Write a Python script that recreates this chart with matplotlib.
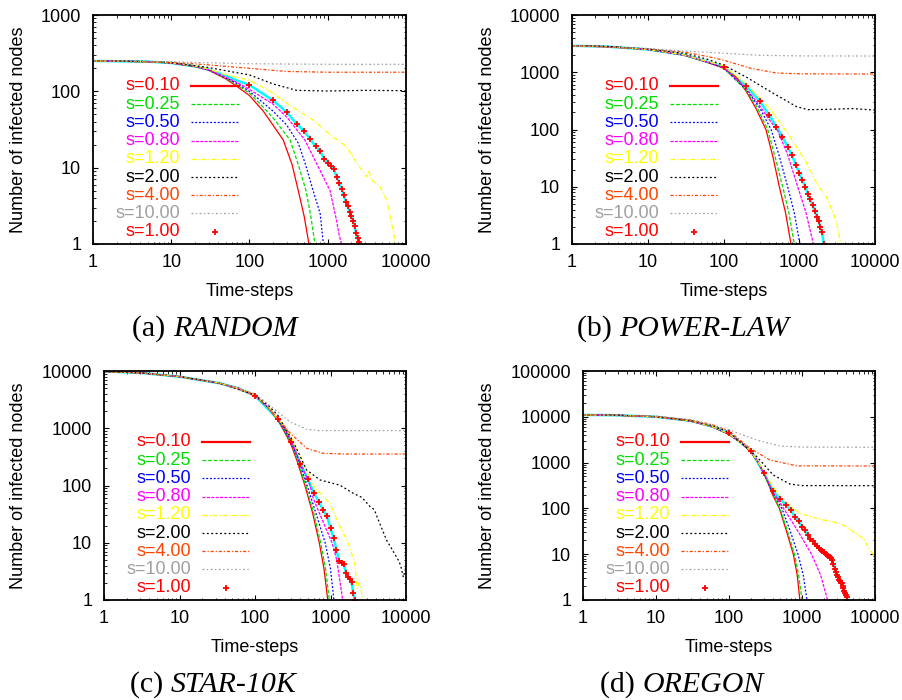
import numpy as np
import matplotlib
matplotlib.use("Agg")
import matplotlib.pyplot as plt
from matplotlib.ticker import LogLocator, FuncFormatter, NullFormatter

plt.rcParams['font.family'] = ['Liberation Sans', 'DejaVu Sans']

FIG_W, FIG_H = 902, 700

LABELS = ["s=0.10", "s=0.25", "s=0.50", "s=0.80", "s=1.20", "s=2.00", "s=4.00", "s=10.00"]
COLORS = ["#ff0000", "#00dd00", "#0000ff", "#ff00ff", "#ffff00", "#000000", "#ff4500", "#a0a0a0"]
STYLES = ["-", (0, (3, 1.5)), (0, (1.5, 1.5)), (0, (2.5, 1)), (0, (4, 1.5, 1, 1.5)),
          (0, (1.5, 2)), (0, (2.5, 1.5, 1, 1.5)), (0, (1.5, 2, 1, 2))]

# ---- (a) RANDOM ----
A_010 = [(1, 250), (5, 245), (10, 235), (20, 212), (30, 190), (50, 145), (70, 115), (100, 88), (150, 55), (200, 36), (270, 23), (350, 11), (420, 5), (500, 2.3), (575, 1)]
A_025 = [(1, 250), (5, 245), (10, 235), (20, 212), (30, 190), (50, 148), (70, 120), (100, 95), (150, 62), (200, 45), (330, 23), (420, 11), (527, 5), (600, 2.5), (687, 1)]
A_050 = [(1, 250), (5, 245), (10, 235), (20, 212), (30, 190), (50, 150), (70, 126), (100, 100), (200, 55), (300, 36), (420, 21), (520, 11), (650, 5), (800, 2.5), (880, 1)]
A_080 = [(1, 250), (5, 245), (10, 235), (20, 213), (30, 192), (50, 153), (70, 130), (100, 106), (200, 68), (300, 46), (510, 23), (700, 12), (1070, 5), (1300, 2), (1400, 1.3), (1500, 1)]
A_120 = [(1, 250), (5, 245), (10, 236), (20, 215), (30, 196), (50, 165), (100, 140), (200, 95), (300, 70), (440, 54), (655, 42), (1070, 27), (1750, 18.8), (2340, 11.4), (2800, 9), (3150, 7.6), (3350, 9.2), (3600, 7), (4670, 5.6), (5650, 3.8), (6840, 1.5), (7300, 1)]
A_200 = [(1, 250), (5, 246), (10, 238), (30, 205), (60, 180), (100, 164), (200, 125), (400, 103), (1000, 101), (3000, 103), (10000, 102)]
A_400 = [(1, 250), (10, 240), (30, 222), (100, 200), (300, 182), (1000, 178), (10000, 178)]
A_1000 = [(1, 250), (10, 243), (100, 230), (1000, 226), (10000, 226)]
A_100 = [(1, 250), (5, 245), (10, 235), (20, 213), (30, 193), (50, 160), (70, 138), (100, 121), (200, 76), (300, 53), (400, 37.5), (500, 30), (600, 23.5), (700, 19), (800, 16.5), (900, 13), (1000, 11.5), (1100, 10.5), (1200, 9.5), (1300, 7.5), (1400, 6.3), (1500, 5.3), (1600, 4.4), (1700, 3.6), (1800, 3.1), (1900, 2.6), (2000, 2.3), (2100, 2.0), (2200, 1.7), (2300, 1.4), (2400, 1.2), (2500, 1.05)]

# ---- (b) POWER-LAW ----
B_010 = [(1, 2900), (3, 2800), (10, 2500), (30, 2000), (60, 1500), (100, 1180), (150, 800), (200, 460), (270, 230), (363, 100), (450, 33), (546, 10), (660, 3.5), (778, 1)]
B_025 = [(1, 2900), (3, 2800), (10, 2500), (30, 2000), (60, 1510), (100, 1190), (200, 480), (280, 240), (383, 100), (480, 33), (605, 10), (730, 3.5), (860, 1)]
B_050 = [(1, 2900), (3, 2800), (10, 2500), (30, 2000), (60, 1520), (100, 1200), (200, 500), (300, 240), (425, 100), (550, 33), (703, 10), (860, 3.5), (1020, 1)]
B_080 = [(1, 2900), (3, 2800), (10, 2500), (30, 2000), (60, 1530), (100, 1220), (200, 520), (300, 260), (400, 150), (519, 95), (700, 37), (955, 10), (1230, 3.5), (1535, 1)]
B_120 = [(1, 2900), (3, 2800), (10, 2500), (30, 2020), (60, 1550), (100, 1300), (200, 620), (411, 230), (755, 75), (1260, 25.7), (1700, 11.5), (2300, 6.5), (2800, 3.5), (3120, 2.3), (3450, 1.2), (3600, 1)]
B_200 = [(1, 2900), (3, 2820), (10, 2550), (30, 2150), (60, 1700), (100, 1340), (202, 815), (455, 428), (925, 250), (1300, 222), (2500, 225), (5000, 232), (10000, 218)]
B_400 = [(1, 2900), (10, 2570), (30, 2250), (60, 1900), (100, 1630), (230, 1170), (500, 970), (1000, 940), (10000, 930)]
B_1000 = [(1, 2900), (10, 2600), (30, 2350), (100, 2150), (300, 1980), (1000, 1930), (10000, 1920)]
B_100 = [(1, 2900), (3, 2800), (10, 2500), (30, 2010), (60, 1540), (100, 1250), (200, 575), (300, 315), (400, 179), (500, 112), (600, 75), (700, 50), (800, 36), (900, 24), (1000, 17.6), (1100, 13), (1200, 10), (1300, 7.5), (1400, 6), (1500, 4.8), (1600, 3.8), (1700, 3.0), (1800, 2.5), (1900, 2.0), (2000, 1.6), (2100, 1.0)]

# ---- (c) STAR-10K ----
C_010 = [(1, 9800), (3, 9300), (10, 7950), (33, 6150), (60, 5000), (100, 3700), (150, 2300), (200, 1400), (233, 1000), (300, 520), (360, 270), (458, 100), (580, 33), (710, 10), (820, 3.5), (920, 1)]
C_025 = [(1, 9800), (3, 9300), (10, 7950), (33, 6150), (60, 5000), (100, 3700), (150, 2300), (200, 1400), (240, 1000), (300, 560), (360, 300), (470, 100), (600, 33), (740, 10), (860, 3.5), (965, 1)]
C_050 = [(1, 9800), (3, 9300), (10, 7950), (33, 6150), (60, 5000), (100, 3700), (150, 2310), (200, 1410), (245, 1000), (300, 590), (370, 300), (490, 100), (640, 33), (850, 10), (1000, 3.5), (1110, 1)]
C_080 = [(1, 9800), (3, 9300), (10, 7950), (33, 6150), (60, 5000), (100, 3700), (150, 2320), (200, 1420), (250, 1000), (300, 620), (400, 250), (535, 100), (590, 60), (750, 28), (1050, 10), (1210, 5), (1450, 1)]
C_120 = [(1, 9800), (3, 9300), (10, 7950), (33, 6150), (60, 5000), (100, 3720), (150, 2350), (200, 1450), (250, 1050), (300, 700), (450, 220), (623, 89), (800, 65), (980, 49), (1150, 30), (1340, 19), (1720, 9.8), (2100, 4.4), (2250, 1.6), (2400, 2.0), (2550, 1.5), (2650, 1)]
C_200 = [(1, 9800), (3, 9300), (10, 8000), (33, 6200), (100, 3800), (150, 2500), (200, 1700), (321, 582), (484, 186), (727, 125), (1340, 101), (2000, 73), (2600, 62), (3330, 43), (3800, 38), (4300, 25), (5550, 11), (6800, 7), (7900, 5), (8500, 4), (9220, 2.5), (10000, 3.8)]
C_400 = [(1, 9800), (3, 9300), (10, 8000), (33, 6200), (100, 3900), (193, 1590), (290, 830), (484, 445), (800, 365), (1500, 355), (10000, 355)]
C_1000 = [(1, 9800), (3, 9300), (10, 8000), (33, 6300), (100, 4000), (175, 2230), (290, 1300), (484, 960), (700, 910), (10000, 910)]
C_100 = [(1, 9800), (3, 9300), (10, 7950), (33, 6150), (60, 5000), (100, 3700), (200, 1450), (300, 570), (400, 240), (500, 130), (600, 75), (700, 52), (800, 37), (900, 29), (1000, 18), (1100, 12), (1200, 7.5), (1300, 4.8), (1400, 4.5), (1500, 4.2), (1600, 3), (1700, 2.5), (1800, 2.3), (1900, 2.1), (2000, 1.3), (2100, 1)]

# ---- (d) OREGON ----
D_010 = [(1, 11000), (3, 10800), (10, 10000), (30, 8100), (60, 6000), (100, 4100), (150, 2600), (200, 1700), (250, 1020), (300, 580), (350, 330), (400, 190), (490, 100), (620, 30), (760, 10), (860, 3.5), (935, 1)]
D_025 = [(1, 11000), (3, 10800), (10, 10000), (30, 8100), (60, 6000), (100, 4120), (150, 2620), (200, 1710), (250, 1030), (300, 585), (400, 200), (500, 100), (640, 30), (790, 10), (900, 3.5), (1000, 1)]
D_050 = [(1, 11000), (3, 10800), (10, 10000), (30, 8100), (60, 6000), (100, 4150), (150, 2650), (200, 1720), (250, 1040), (300, 590), (400, 215), (530, 100), (700, 30), (880, 10), (1040, 3.5), (1170, 1)]
D_080 = [(1, 11000), (3, 10800), (10, 10000), (30, 8100), (60, 6000), (100, 4200), (150, 2700), (200, 1740), (250, 1050), (300, 600), (400, 230), (560, 100), (900, 30), (1350, 10), (1800, 3.5), (2240, 1)]
D_120 = [(1, 11000), (3, 10800), (10, 10000), (30, 8150), (60, 6050), (100, 4250), (200, 1800), (300, 650), (400, 300), (500, 180), (700, 110), (935, 78), (1400, 64), (1950, 56), (2500, 52), (3310, 47), (4000, 40), (5030, 31), (6920, 22), (8500, 12.3), (10000, 8.8)]
D_200 = [(1, 11000), (3, 10800), (10, 10100), (30, 8300), (60, 6400), (100, 4600), (240, 1350), (404, 535), (684, 340), (1000, 315), (10000, 313)]
D_400 = [(1, 11000), (10, 10200), (30, 8500), (60, 6700), (100, 4900), (194, 2050), (363, 1140), (850, 850), (10000, 843)]
D_1000 = [(1, 11000), (10, 10300), (30, 8700), (100, 5200), (240, 3100), (500, 2300), (1000, 2180), (10000, 2160)]
D_100 = [(1, 11000), (3, 10800), (10, 10000), (30, 8150), (60, 6050), (100, 4350), (200, 1820), (300, 590), (400, 245), (500, 160), (600, 120), (700, 92), (800, 65), (900, 52), (1000, 40), (1100, 33), (1200, 26), (1300, 22), (1400, 19), (1500, 17), (1600, 15), (1700, 13.5), (1800, 12.5), (1900, 12), (2000, 11), (2100, 10), (2200, 9.5), (2300, 9), (2400, 8.6), (2500, 8.2), (2600, 7.5), (2700, 6.0), (2800, 4.8), (2900, 4.0), (3000, 3.5), (3100, 3.1), (3200, 2.8), (3300, 2.6), (3400, 2.4), (3500, 2.3), (3600, 2.0), (3700, 1.8), (3800, 1.6), (3900, 1.4), (4000, 1.3), (4100, 1.15), (4200, 1.0)]

PANELS = [
    # tag, name, curves, s=1 curve, ymax, axes rect (px: left, top, right, bottom), ylabel x px, caption left px
    ("(a) ", "RANDOM", [A_010, A_025, A_050, A_080, A_120, A_200, A_400, A_1000], A_100, 1000, (93, 15, 406, 244), 27, 132),
    ("(b) ", "POWER-LAW", [B_010, B_025, B_050, B_080, B_120, B_200, B_400, B_1000], B_100, 10000, (572, 15, 875, 244), 496, 577),
    ("(c) ", "STAR-10K", [C_010, C_025, C_050, C_080, C_120, C_200, C_400, C_1000], C_100, 10000, (104, 371, 406, 600), 27, 130),
    ("(d) ", "OREGON", [D_010, D_025, D_050, D_080, D_120, D_200, D_400, D_1000], D_100, 100000, (583, 371, 875, 600), 496, 600),
]

fig = plt.figure(figsize=(FIG_W / 100, FIG_H / 100), dpi=100)

for tag, name, curves, s1, ymax, (l, t, r, b), ylab_px, cap_px in PANELS:
    ax = fig.add_axes([l / FIG_W, 1 - b / FIG_H, (r - l) / FIG_W, (b - t) / FIG_H])
    ax.set_xscale("log")
    ax.set_yscale("log")

    # s=1.00 drawn as a cyan line under the others, with red + marks on top
    x, y = np.array(s1).T
    ax.plot(x, y, color="#00ffff", linewidth=1.8)
    for data, col, ls in zip(curves, COLORS, STYLES):
        cx, cy = zip(*data)
        ax.plot(cx, cy, color=col, linestyle=ls, linewidth=0.9)
    marks = x >= 100
    ax.plot(x[marks], y[marks], linestyle="none", marker="+", color="#ff0000",
            markersize=5, markeredgewidth=1.3)

    ax.set_xlim(1, 10000)
    ax.set_ylim(1, ymax)
    ax.xaxis.set_major_locator(LogLocator(base=10))
    ax.yaxis.set_major_locator(LogLocator(base=10))
    ax.xaxis.set_minor_locator(LogLocator(base=10, subs=np.arange(2, 10)))
    ax.yaxis.set_minor_locator(LogLocator(base=10, subs=np.arange(2, 10)))
    fmt = FuncFormatter(lambda v, p: "%d" % round(v))
    ax.xaxis.set_major_formatter(fmt)
    ax.yaxis.set_major_formatter(fmt)
    ax.xaxis.set_minor_formatter(NullFormatter())
    ax.yaxis.set_minor_formatter(NullFormatter())
    ax.tick_params(which="both", direction="in", top=True, right=True, labelsize=13)
    ax.tick_params(which="major", length=3.5, width=0.8)
    ax.tick_params(which="minor", length=1.8, width=0.6)
    ax.tick_params(axis="x", pad=7)
    ax.tick_params(axis="y", pad=8.5)
    for sp in ax.spines.values():
        sp.set_linewidth(1.3)

    w_px, h_px = r - l, b - t
    ax.set_xlabel("Time-steps", fontsize=13)
    ax.xaxis.set_label_coords(0.5, -39 / h_px)
    ax.set_ylabel("Number of infected nodes", fontsize=13)
    ax.yaxis.set_label_coords((ylab_px - l) / w_px, 0.5)

    # key, gnuplot style: right-aligned text, sample to the right
    row0, step = 158, 18.2
    tx, lx0, lx1 = 87 / w_px, 98 / w_px, 146 / w_px
    for i, (lab, col, ls) in enumerate(zip(LABELS, COLORS, STYLES)):
        yy = (row0 - i * step) / h_px
        ax.text(tx, yy, lab, color=col, fontsize=13, ha="right", va="center",
                transform=ax.transAxes)
        ax.plot([lx0, lx1], [yy, yy], color=col, linestyle=ls,
                linewidth=1.6 if i == 0 else 0.9, transform=ax.transAxes, clip_on=False)
    yy = (row0 - 8 * step) / h_px
    ax.text(tx, yy, "s=1.00", color="#ff0000", fontsize=13, ha="right", va="center",
            transform=ax.transAxes)
    ax.plot([(lx0 + lx1) / 2], [yy], marker="+", color="#ff0000", markersize=5,
            markeredgewidth=1.3, transform=ax.transAxes)

    # caption under the panel
    base = 1 - (b + 92) / FIG_H
    t1 = fig.text(cap_px / FIG_W, base, tag, family=["Liberation Serif", "DejaVu Serif"],
                  fontsize=21.5, va="baseline", ha="left")
    ax.annotate(name, xy=(1, 0), xycoords=t1, va="bottom", ha="left",
                family=["Liberation Serif", "DejaVu Serif"], fontstyle="italic",
                fontsize=21.5, annotation_clip=False)

fig.savefig("out.png", dpi=100)
